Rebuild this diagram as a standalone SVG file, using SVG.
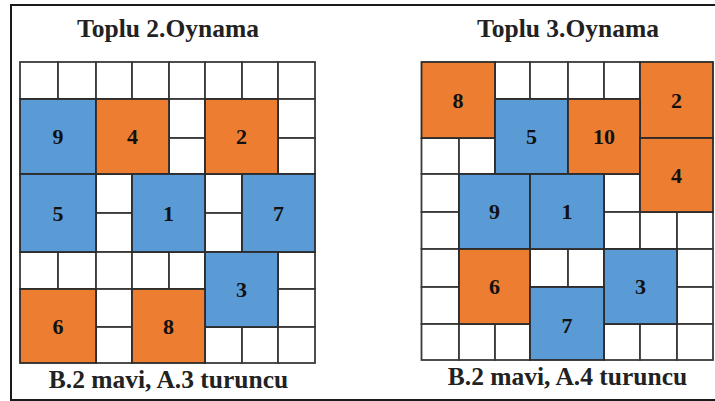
<svg xmlns="http://www.w3.org/2000/svg" width="715" height="401" viewBox="0 0 715 401">
  <style>
    .frame { fill: #ffffff; stroke: #1a1a1a; stroke-width: 2; }
    .cell { fill: #ffffff; stroke: #3a3a3a; stroke-width: 1.8; }
    .blue { fill: #5b9bd5; stroke: #2b2b2b; stroke-width: 1.8; }
    .orange { fill: #ed7d31; stroke: #2b2b2b; stroke-width: 1.8; }
    .title { font-family: "Liberation Serif", "Times New Roman", serif; font-weight: bold; font-size: 25.5px; fill: #222; text-anchor: middle; }
    .num { font-family: "Liberation Serif", "Times New Roman", serif; font-weight: bold; font-size: 22px; fill: #111; text-anchor: middle; }
  </style>

  <!-- outer frame -->
  <rect class="frame" x="11" y="5" width="712" height="395"/>

  <!-- ===== left board: Toplu 2.Oynama ===== -->
  <g id="left-board">
    <text class="title" x="168" y="37">Toplu 2.Oynama</text>

    <g id="left-empty-cells">
      <!-- row 0 -->
      <rect class="cell" x="20" y="62" width="38" height="37"/>
      <rect class="cell" x="58" y="62" width="38" height="37"/>
      <rect class="cell" x="96" y="62" width="36" height="37"/>
      <rect class="cell" x="132" y="62" width="37" height="37"/>
      <rect class="cell" x="169" y="62" width="36" height="37"/>
      <rect class="cell" x="205" y="62" width="37" height="37"/>
      <rect class="cell" x="242" y="62" width="36" height="37"/>
      <rect class="cell" x="278" y="62" width="37" height="37"/>
      <!-- rows 1-2 -->
      <rect class="cell" x="169" y="99" width="36" height="39"/>
      <rect class="cell" x="169" y="138" width="36" height="36"/>
      <rect class="cell" x="278" y="99" width="37" height="39"/>
      <rect class="cell" x="278" y="138" width="37" height="36"/>
      <!-- rows 3-4 -->
      <rect class="cell" x="96" y="174" width="36" height="39"/>
      <rect class="cell" x="96" y="213" width="36" height="39"/>
      <rect class="cell" x="205" y="174" width="37" height="39"/>
      <rect class="cell" x="205" y="213" width="37" height="39"/>
      <!-- row 5 -->
      <rect class="cell" x="20" y="252" width="38" height="37"/>
      <rect class="cell" x="58" y="252" width="38" height="37"/>
      <rect class="cell" x="96" y="252" width="36" height="37"/>
      <rect class="cell" x="132" y="252" width="37" height="37"/>
      <rect class="cell" x="169" y="252" width="36" height="37"/>
      <rect class="cell" x="278" y="252" width="37" height="37"/>
      <!-- rows 6-7 -->
      <rect class="cell" x="96" y="289" width="36" height="38"/>
      <rect class="cell" x="96" y="327" width="36" height="36"/>
      <rect class="cell" x="278" y="289" width="37" height="38"/>
      <rect class="cell" x="205" y="327" width="37" height="36"/>
      <rect class="cell" x="242" y="327" width="36" height="36"/>
      <rect class="cell" x="278" y="327" width="37" height="36"/>
    </g>

    <g id="L9"><rect class="blue" x="20" y="99" width="76" height="75"/><text class="num" x="58" y="144">9</text></g>
    <g id="L4"><rect class="orange" x="96" y="99" width="73" height="75"/><text class="num" x="132.5" y="144">4</text></g>
    <g id="L2"><rect class="orange" x="205" y="99" width="73" height="75"/><text class="num" x="241.5" y="144">2</text></g>
    <g id="L5"><rect class="blue" x="20" y="174" width="76" height="78"/><text class="num" x="58" y="220.5">5</text></g>
    <g id="L1"><rect class="blue" x="132" y="174" width="73" height="78"/><text class="num" x="168.5" y="220.5">1</text></g>
    <g id="L7"><rect class="blue" x="242" y="174" width="73" height="78"/><text class="num" x="278.5" y="220.5">7</text></g>
    <g id="L3"><rect class="blue" x="205" y="252" width="73" height="75"/><text class="num" x="241.5" y="297">3</text></g>
    <g id="L6"><rect class="orange" x="20" y="289" width="76" height="74"/><text class="num" x="58" y="333.5">6</text></g>
    <g id="L8"><rect class="orange" x="132" y="289" width="73" height="74"/><text class="num" x="168.5" y="333.5">8</text></g>

    <text class="title" x="168.5" y="388">B.2 mavi, A.3 turuncu</text>
  </g>

  <!-- ===== right board: Toplu 3.Oynama ===== -->
  <g id="right-board">
    <text class="title" x="568" y="37">Toplu 3.Oynama</text>

    <g id="right-empty-cells">
      <!-- row 0 -->
      <rect class="cell" x="495" y="62" width="35" height="37"/>
      <rect class="cell" x="530" y="62" width="38" height="37"/>
      <rect class="cell" x="568" y="62" width="36" height="37"/>
      <rect class="cell" x="604" y="62" width="36" height="37"/>
      <!-- row 2 -->
      <rect class="cell" x="421.5" y="138" width="37.5" height="36"/>
      <rect class="cell" x="459" y="138" width="36" height="36"/>
      <!-- column 0, rows 3-6 -->
      <rect class="cell" x="421.5" y="174" width="37.5" height="38"/>
      <rect class="cell" x="421.5" y="212" width="37.5" height="37"/>
      <rect class="cell" x="421.5" y="249" width="37.5" height="38"/>
      <rect class="cell" x="421.5" y="287" width="37.5" height="37"/>
      <!-- column 5, rows 3-4 -->
      <rect class="cell" x="604" y="174" width="36" height="38"/>
      <rect class="cell" x="604" y="212" width="36" height="37"/>
      <!-- row 4 right -->
      <rect class="cell" x="640" y="212" width="37" height="37"/>
      <rect class="cell" x="677" y="212" width="36" height="37"/>
      <!-- row 5 middle -->
      <rect class="cell" x="530" y="249" width="38" height="38"/>
      <rect class="cell" x="568" y="249" width="36" height="38"/>
      <!-- column 7, rows 5-6 -->
      <rect class="cell" x="677" y="249" width="36" height="38"/>
      <rect class="cell" x="677" y="287" width="36" height="37"/>
      <!-- row 7 -->
      <rect class="cell" x="421.5" y="324" width="37.5" height="36"/>
      <rect class="cell" x="459" y="324" width="36" height="36"/>
      <rect class="cell" x="495" y="324" width="35" height="36"/>
      <rect class="cell" x="604" y="324" width="36" height="36"/>
      <rect class="cell" x="640" y="324" width="37" height="36"/>
      <rect class="cell" x="677" y="324" width="36" height="36"/>
    </g>

    <g id="R8"><rect class="orange" x="421.5" y="62" width="73.5" height="76"/><text class="num" x="458" y="107.5">8</text></g>
    <g id="R2"><rect class="orange" x="640" y="62" width="73" height="76"/><text class="num" x="676.5" y="107.5">2</text></g>
    <g id="R5"><rect class="blue" x="495" y="99" width="73" height="75"/><text class="num" x="531.5" y="144">5</text></g>
    <g id="R10"><rect class="orange" x="568" y="99" width="72" height="75"/><text class="num" x="604" y="144">10</text></g>
    <g id="R4"><rect class="orange" x="640" y="138" width="73" height="74"/><text class="num" x="676.5" y="182.5">4</text></g>
    <g id="R9"><rect class="blue" x="459" y="174" width="71" height="75"/><text class="num" x="494.5" y="219">9</text></g>
    <g id="R1"><rect class="blue" x="530" y="174" width="74" height="75"/><text class="num" x="567" y="219">1</text></g>
    <g id="R6"><rect class="orange" x="459" y="249" width="71" height="75"/><text class="num" x="494.5" y="294">6</text></g>
    <g id="R3"><rect class="blue" x="604" y="249" width="73" height="75"/><text class="num" x="640.5" y="294">3</text></g>
    <g id="R7"><rect class="blue" x="530" y="287" width="74" height="73"/><text class="num" x="567" y="333">7</text></g>

    <text class="title" x="567.5" y="385">B.2 mavi, A.4 turuncu</text>
  </g>
</svg>
